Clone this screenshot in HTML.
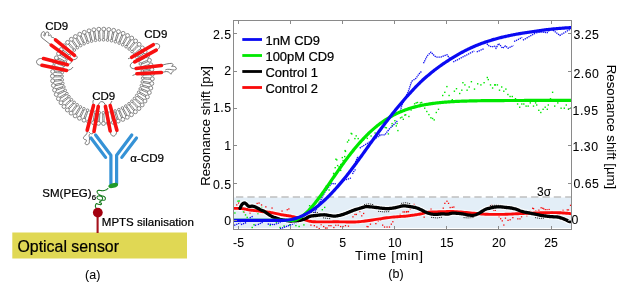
<!DOCTYPE html>
<html><head><meta charset="utf-8"><style>
html,body{margin:0;padding:0;background:#fff;}
svg{display:block;}
text{stroke:#000;stroke-width:0.06px;fill:#000;}
text.h{stroke-width:0.22px;}
svg{will-change:transform;}
</style></head><body>
<svg width="617" height="283" viewBox="0 0 617 283" font-family="Liberation Sans, sans-serif"><rect width="617" height="283" fill="#fff"/><line x1="177.5" y1="0" x2="177.5" y2="19" stroke="#ececec" stroke-width="1"/><rect x="234" y="197.5" width="337" height="30.4" fill="#e3eef7"/><line x1="236" y1="197" x2="571" y2="197" stroke="#a0a0a0" stroke-width="1.2" stroke-dasharray="7.3,4.05"/><g fill="#fa0a0a"><rect x="236.1" y="204.3" width="1.3" height="1.3"/><rect x="238.0" y="202.4" width="1.3" height="1.3"/><rect x="256.5" y="202.8" width="1.3" height="1.3"/><rect x="258.4" y="202.4" width="1.3" height="1.3"/><rect x="260.9" y="204.3" width="1.3" height="1.3"/><rect x="265.2" y="206.2" width="1.3" height="1.3"/><rect x="263.4" y="209.3" width="1.3" height="1.3"/><rect x="286.6" y="209.1" width="1.3" height="1.3"/><rect x="288.2" y="208.3" width="1.3" height="1.3"/><rect x="243.4" y="211.4" width="1.3" height="1.3"/><rect x="249.4" y="212.4" width="1.3" height="1.3"/><rect x="271.4" y="207.4" width="1.3" height="1.3"/><rect x="276.4" y="213.4" width="1.3" height="1.3"/><rect x="281.4" y="210.4" width="1.3" height="1.3"/><rect x="310.3" y="224.5" width="1.3" height="1.3"/><rect x="313.7" y="225.0" width="1.3" height="1.3"/><rect x="316.2" y="226.4" width="1.3" height="1.3"/><rect x="318.6" y="227.9" width="1.3" height="1.3"/><rect x="320.5" y="224.0" width="1.3" height="1.3"/><rect x="323.0" y="225.9" width="1.3" height="1.3"/><rect x="324.9" y="227.4" width="1.3" height="1.3"/><rect x="326.4" y="227.4" width="1.3" height="1.3"/><rect x="328.3" y="225.0" width="1.3" height="1.3"/><rect x="330.3" y="225.0" width="1.3" height="1.3"/><rect x="333.2" y="226.9" width="1.3" height="1.3"/><rect x="335.1" y="224.5" width="1.3" height="1.3"/><rect x="337.6" y="224.5" width="1.3" height="1.3"/><rect x="340.0" y="225.9" width="1.3" height="1.3"/><rect x="342.4" y="225.9" width="1.3" height="1.3"/><rect x="344.8" y="225.0" width="1.3" height="1.3"/><rect x="347.8" y="225.5" width="1.3" height="1.3"/><rect x="352.3" y="216.2" width="1.3" height="1.3"/><rect x="354.3" y="213.8" width="1.3" height="1.3"/><rect x="355.7" y="213.8" width="1.3" height="1.3"/><rect x="359.1" y="210.9" width="1.3" height="1.3"/><rect x="361.1" y="215.2" width="1.3" height="1.3"/><rect x="363.0" y="212.8" width="1.3" height="1.3"/><rect x="364.5" y="219.6" width="1.3" height="1.3"/><rect x="366.4" y="225.9" width="1.3" height="1.3"/><rect x="367.4" y="226.1" width="1.3" height="1.3"/><rect x="369.8" y="223.5" width="1.3" height="1.3"/><rect x="375.2" y="223.0" width="1.3" height="1.3"/><rect x="377.6" y="220.6" width="1.3" height="1.3"/><rect x="380.0" y="219.6" width="1.3" height="1.3"/><rect x="382.0" y="224.5" width="1.3" height="1.3"/><rect x="383.9" y="226.4" width="1.3" height="1.3"/><rect x="386.4" y="226.4" width="1.3" height="1.3"/><rect x="388.8" y="226.4" width="1.3" height="1.3"/><rect x="390.7" y="223.5" width="1.3" height="1.3"/><rect x="392.2" y="221.1" width="1.3" height="1.3"/><rect x="399.5" y="213.8" width="1.3" height="1.3"/><rect x="402.4" y="211.3" width="1.3" height="1.3"/><rect x="403.9" y="211.3" width="1.3" height="1.3"/><rect x="405.8" y="211.3" width="1.3" height="1.3"/><rect x="407.8" y="210.9" width="1.3" height="1.3"/><rect x="413.4" y="203.8" width="1.3" height="1.3"/><rect x="409.7" y="208.5" width="1.3" height="1.3"/><rect x="406.0" y="211.0" width="1.3" height="1.3"/><rect x="407.6" y="211.0" width="1.3" height="1.3"/><rect x="430.4" y="208.5" width="1.3" height="1.3"/><rect x="423.5" y="216.5" width="1.3" height="1.3"/><rect x="442.6" y="207.5" width="1.3" height="1.3"/><rect x="444.2" y="202.7" width="1.3" height="1.3"/><rect x="446.3" y="200.6" width="1.3" height="1.3"/><rect x="447.9" y="202.7" width="1.3" height="1.3"/><rect x="449.5" y="206.9" width="1.3" height="1.3"/><rect x="451.6" y="206.7" width="1.3" height="1.3"/><rect x="453.2" y="206.4" width="1.3" height="1.3"/><rect x="489.4" y="205.4" width="1.3" height="1.3"/><rect x="491.0" y="204.8" width="1.3" height="1.3"/><rect x="486.2" y="207.5" width="1.3" height="1.3"/><rect x="493.1" y="209.6" width="1.3" height="1.3"/><rect x="494.7" y="209.6" width="1.3" height="1.3"/><rect x="498.4" y="216.0" width="1.3" height="1.3"/><rect x="500.0" y="218.1" width="1.3" height="1.3"/><rect x="501.6" y="220.2" width="1.3" height="1.3"/><rect x="503.2" y="224.4" width="1.3" height="1.3"/><rect x="504.8" y="217.5" width="1.3" height="1.3"/><rect x="507.4" y="219.7" width="1.3" height="1.3"/><rect x="509.5" y="219.1" width="1.3" height="1.3"/><rect x="512.2" y="217.0" width="1.3" height="1.3"/><rect x="517.2" y="218.2" width="1.3" height="1.3"/><rect x="519.3" y="218.2" width="1.3" height="1.3"/><rect x="520.9" y="216.1" width="1.3" height="1.3"/><rect x="526.2" y="215.1" width="1.3" height="1.3"/><rect x="529.4" y="210.3" width="1.3" height="1.3"/><rect x="532.0" y="207.6" width="1.3" height="1.3"/><rect x="532.9" y="208.0" width="1.3" height="1.3"/><rect x="535.2" y="210.1" width="1.3" height="1.3"/><rect x="537.8" y="209.8" width="1.3" height="1.3"/><rect x="538.4" y="209.7" width="1.3" height="1.3"/><rect x="540.5" y="207.1" width="1.3" height="1.3"/><rect x="542.1" y="207.6" width="1.3" height="1.3"/><rect x="543.1" y="208.2" width="1.3" height="1.3"/><rect x="544.7" y="209.1" width="1.3" height="1.3"/><rect x="546.4" y="209.1" width="1.3" height="1.3"/><rect x="548.5" y="208.9" width="1.3" height="1.3"/><rect x="551.4" y="211.0" width="1.3" height="1.3"/><rect x="559.0" y="214.4" width="1.3" height="1.3"/><rect x="562.4" y="209.7" width="1.3" height="1.3"/><rect x="566.6" y="209.3" width="1.3" height="1.3"/><rect x="567.8" y="209.3" width="1.3" height="1.3"/><rect x="569.9" y="204.7" width="1.3" height="1.3"/></g><g fill="#00e800"><rect x="237.3" y="200.5" width="1.4" height="1.4"/><rect x="238.5" y="200.3" width="1.4" height="1.4"/><rect x="234.2" y="212.3" width="1.4" height="1.4"/><rect x="242.8" y="211.0" width="1.4" height="1.4"/><rect x="244.8" y="214.2" width="1.4" height="1.4"/><rect x="246.5" y="216.7" width="1.4" height="1.4"/><rect x="253.3" y="224.0" width="1.4" height="1.4"/><rect x="251.5" y="226.8" width="1.4" height="1.4"/><rect x="257.2" y="212.9" width="1.4" height="1.4"/><rect x="260.9" y="206.8" width="1.4" height="1.4"/><rect x="269.5" y="224.7" width="1.4" height="1.4"/><rect x="275.7" y="221.5" width="1.4" height="1.4"/><rect x="279.4" y="226.8" width="1.4" height="1.4"/><rect x="289.0" y="224.2" width="1.4" height="1.4"/><rect x="295.2" y="224.9" width="1.4" height="1.4"/><rect x="303.2" y="224.2" width="1.4" height="1.4"/><rect x="283.4" y="225.3" width="1.4" height="1.4"/><rect x="298.4" y="225.8" width="1.4" height="1.4"/><rect x="308.9" y="205.0" width="1.4" height="1.4"/><rect x="316.0" y="199.4" width="1.4" height="1.4"/><rect x="321.6" y="209.0" width="1.4" height="1.4"/><rect x="324.0" y="206.7" width="1.4" height="1.4"/><rect x="325.7" y="185.5" width="1.4" height="1.4"/><rect x="332.1" y="177.7" width="1.4" height="1.4"/><rect x="318.4" y="202.3" width="1.4" height="1.4"/><rect x="328.4" y="189.3" width="1.4" height="1.4"/><rect x="312.4" y="206.3" width="1.4" height="1.4"/><rect x="335.2" y="158.5" width="1.4" height="1.4"/><rect x="336.9" y="164.9" width="1.4" height="1.4"/><rect x="336.1" y="159.2" width="1.4" height="1.4"/><rect x="338.4" y="166.2" width="1.4" height="1.4"/><rect x="340.0" y="163.8" width="1.4" height="1.4"/><rect x="342.4" y="159.9" width="1.4" height="1.4"/><rect x="344.0" y="155.9" width="1.4" height="1.4"/><rect x="334.5" y="167.0" width="1.4" height="1.4"/><rect x="332.9" y="172.7" width="1.4" height="1.4"/><rect x="340.0" y="169.7" width="1.4" height="1.4"/><rect x="341.6" y="156.9" width="1.4" height="1.4"/><rect x="344.8" y="150.7" width="1.4" height="1.4"/><rect x="344.4" y="149.9" width="1.4" height="1.4"/><rect x="346.8" y="141.3" width="1.4" height="1.4"/><rect x="348.0" y="139.5" width="1.4" height="1.4"/><rect x="351.1" y="133.2" width="1.4" height="1.4"/><rect x="350.5" y="132.7" width="1.4" height="1.4"/><rect x="354.2" y="137.9" width="1.4" height="1.4"/><rect x="355.5" y="135.2" width="1.4" height="1.4"/><rect x="357.5" y="137.9" width="1.4" height="1.4"/><rect x="329.9" y="181.3" width="1.4" height="1.4"/><rect x="333.4" y="173.3" width="1.4" height="1.4"/><rect x="362.9" y="138.8" width="1.4" height="1.4"/><rect x="366.6" y="137.7" width="1.4" height="1.4"/><rect x="370.4" y="135.3" width="1.4" height="1.4"/><rect x="374.4" y="132.3" width="1.4" height="1.4"/><rect x="379.4" y="130.3" width="1.4" height="1.4"/><rect x="384.5" y="126.8" width="1.4" height="1.4"/><rect x="385.7" y="127.1" width="1.4" height="1.4"/><rect x="387.7" y="133.2" width="1.4" height="1.4"/><rect x="391.4" y="122.9" width="1.4" height="1.4"/><rect x="391.4" y="125.2" width="1.4" height="1.4"/><rect x="394.2" y="120.0" width="1.4" height="1.4"/><rect x="395.6" y="125.2" width="1.4" height="1.4"/><rect x="396.4" y="122.8" width="1.4" height="1.4"/><rect x="397.2" y="129.9" width="1.4" height="1.4"/><rect x="399.8" y="117.2" width="1.4" height="1.4"/><rect x="401.2" y="116.5" width="1.4" height="1.4"/><rect x="402.6" y="118.6" width="1.4" height="1.4"/><rect x="404.1" y="114.4" width="1.4" height="1.4"/><rect x="405.0" y="114.1" width="1.4" height="1.4"/><rect x="408.2" y="115.8" width="1.4" height="1.4"/><rect x="410.4" y="109.3" width="1.4" height="1.4"/><rect x="413.9" y="103.1" width="1.4" height="1.4"/><rect x="415.5" y="102.2" width="1.4" height="1.4"/><rect x="416.8" y="101.8" width="1.4" height="1.4"/><rect x="419.7" y="102.2" width="1.4" height="1.4"/><rect x="421.0" y="101.8" width="1.4" height="1.4"/><rect x="424.0" y="107.5" width="1.4" height="1.4"/><rect x="426.1" y="110.8" width="1.4" height="1.4"/><rect x="428.2" y="113.9" width="1.4" height="1.4"/><rect x="430.2" y="117.1" width="1.4" height="1.4"/><rect x="431.9" y="117.8" width="1.4" height="1.4"/><rect x="433.5" y="119.2" width="1.4" height="1.4"/><rect x="435.6" y="111.8" width="1.4" height="1.4"/><rect x="437.8" y="108.6" width="1.4" height="1.4"/><rect x="442.0" y="94.8" width="1.4" height="1.4"/><rect x="444.1" y="91.6" width="1.4" height="1.4"/><rect x="446.2" y="85.9" width="1.4" height="1.4"/><rect x="448.4" y="94.8" width="1.4" height="1.4"/><rect x="451.6" y="99.0" width="1.4" height="1.4"/><rect x="453.7" y="90.5" width="1.4" height="1.4"/><rect x="455.8" y="88.0" width="1.4" height="1.4"/><rect x="459.0" y="92.8" width="1.4" height="1.4"/><rect x="461.1" y="89.5" width="1.4" height="1.4"/><rect x="462.2" y="82.0" width="1.4" height="1.4"/><rect x="464.2" y="84.2" width="1.4" height="1.4"/><rect x="466.4" y="89.5" width="1.4" height="1.4"/><rect x="468.5" y="86.3" width="1.4" height="1.4"/><rect x="470.7" y="81.0" width="1.4" height="1.4"/><rect x="473.8" y="88.4" width="1.4" height="1.4"/><rect x="477.0" y="83.1" width="1.4" height="1.4"/><rect x="480.2" y="84.2" width="1.4" height="1.4"/><rect x="483.4" y="82.0" width="1.4" height="1.4"/><rect x="486.6" y="76.8" width="1.4" height="1.4"/><rect x="487.6" y="78.9" width="1.4" height="1.4"/><rect x="489.8" y="84.2" width="1.4" height="1.4"/><rect x="491.9" y="87.3" width="1.4" height="1.4"/><rect x="494.0" y="84.2" width="1.4" height="1.4"/><rect x="494.6" y="84.2" width="1.4" height="1.4"/><rect x="496.7" y="84.2" width="1.4" height="1.4"/><rect x="498.8" y="89.5" width="1.4" height="1.4"/><rect x="501.0" y="86.3" width="1.4" height="1.4"/><rect x="503.1" y="90.5" width="1.4" height="1.4"/><rect x="505.2" y="88.4" width="1.4" height="1.4"/><rect x="507.2" y="93.8" width="1.4" height="1.4"/><rect x="509.4" y="95.8" width="1.4" height="1.4"/><rect x="511.6" y="95.8" width="1.4" height="1.4"/><rect x="514.8" y="98.0" width="1.4" height="1.4"/><rect x="516.9" y="103.3" width="1.4" height="1.4"/><rect x="519.0" y="106.5" width="1.4" height="1.4"/><rect x="521.1" y="103.3" width="1.4" height="1.4"/><rect x="523.1" y="103.3" width="1.4" height="1.4"/><rect x="525.4" y="105.4" width="1.4" height="1.4"/><rect x="527.5" y="105.4" width="1.4" height="1.4"/><rect x="529.6" y="102.2" width="1.4" height="1.4"/><rect x="532.8" y="105.4" width="1.4" height="1.4"/><rect x="534.9" y="102.2" width="1.4" height="1.4"/><rect x="536.0" y="104.3" width="1.4" height="1.4"/><rect x="538.1" y="109.6" width="1.4" height="1.4"/><rect x="540.1" y="111.8" width="1.4" height="1.4"/><rect x="542.4" y="108.6" width="1.4" height="1.4"/><rect x="544.5" y="106.5" width="1.4" height="1.4"/><rect x="546.6" y="108.6" width="1.4" height="1.4"/><rect x="547.6" y="104.3" width="1.4" height="1.4"/><rect x="549.8" y="98.0" width="1.4" height="1.4"/><rect x="551.9" y="91.6" width="1.4" height="1.4"/><rect x="554.0" y="105.4" width="1.4" height="1.4"/><rect x="557.1" y="102.2" width="1.4" height="1.4"/><rect x="560.4" y="107.5" width="1.4" height="1.4"/><rect x="563.6" y="107.5" width="1.4" height="1.4"/><rect x="565.6" y="104.3" width="1.4" height="1.4"/><rect x="567.8" y="108.6" width="1.4" height="1.4"/><rect x="570.0" y="107.5" width="1.4" height="1.4"/></g><g fill="none" stroke="#0a0af2" stroke-width="1.3" stroke-dasharray="1.3,0.8"><path d="M234.20,225.30 L240.40,222.80"/><path d="M241.00,224.70 L246.60,222.50"/><path d="M249.70,217.90 L252.80,216.30"/><path d="M254.70,225.30 L257.00,225.00"/><path d="M257.80,224.70 L263.30,222.00"/><path d="M267.70,224.00 L273.80,224.70"/><path d="M273.80,224.70 L282.50,221.60"/><path d="M280.00,228.80 L296.00,222.80 L311.80,216.80"/><path d="M311.80,216.80 L315.50,211.00 L319.00,204.50 L322.00,197.50 L324.80,192.30 L327.10,189.10 L329.50,186.00 L331.90,183.30 L334.30,183.90 L336.00,183.60"/><path d="M343.80,180.40 L346.20,179.60 L348.60,178.80 L351.00,178.00"/><path d="M352.50,174.00 L354.10,170.90 L355.70,169.30"/><path d="M355.50,162.00 L358.10,156.00"/><path d="M359.70,148.10 L370.00,141.70 L380.30,135.40"/><path d="M379.20,134.90 L384.90,134.90 L389.10,129.20 L393.40,125.00 L397.60,120.70"/><path d="M400.40,110.80 L401.80,105.20 L406.10,96.70 L408.90,89.70 L411.70,81.20"/><path d="M411.70,81.20 L416.00,78.40 L418.80,74.10 L421.60,71.30"/><path d="M423.50,63.30 L427.20,55.90 L430.90,52.20 L435.90,57.10 L440.80,57.10 L447.00,54.70 L449.50,58.40"/><path d="M453.20,62.00 L474.30,51.00"/><path d="M476.70,52.00 L484.20,48.50"/><path d="M485.40,42.30 L489.10,46.00 L492.00,46.80 L494.70,46.20 L496.00,48.20 L498.70,43.50 L501.40,46.80 L502.70,48.20 L505.40,45.90 L508.10,48.20 L513.50,45.50"/><path d="M514.10,41.50 L522.20,37.40"/><path d="M522.90,40.10 L536.30,32.70"/><path d="M536.30,32.70 L541.70,32.10 L547.00,32.70 L551.00,28.70 L553.70,30.70 L556.40,32.70 L559.80,35.40 L569.90,29.40"/></g><path d="M234.00,208.40 L234.42,208.40 L235.00,208.39 L235.69,208.38 L236.44,208.38 L237.23,208.38 L238.00,208.40 L238.78,208.42 L239.59,208.45 L240.44,208.49 L241.30,208.54 L242.16,208.61 L243.00,208.70 L243.83,208.83 L244.67,208.99 L245.50,209.17 L246.33,209.36 L247.17,209.54 L248.00,209.70 L248.83,209.84 L249.67,209.96 L250.50,210.08 L251.33,210.19 L252.17,210.30 L253.00,210.40 L253.83,210.49 L254.67,210.57 L255.50,210.64 L256.33,210.72 L257.17,210.80 L258.00,210.90 L258.83,211.02 L259.67,211.16 L260.50,211.31 L261.33,211.45 L262.17,211.59 L263.00,211.70 L263.83,211.79 L264.67,211.85 L265.50,211.90 L266.33,211.95 L267.17,212.01 L268.00,212.10 L268.81,212.20 L269.59,212.31 L270.38,212.43 L271.19,212.57 L272.05,212.72 L273.00,212.90 L274.07,213.12 L275.26,213.37 L276.50,213.64 L277.74,213.92 L278.93,214.18 L280.00,214.40 L280.95,214.59 L281.81,214.75 L282.62,214.90 L283.41,215.04 L284.19,215.17 L285.00,215.30 L285.83,215.42 L286.67,215.53 L287.50,215.63 L288.33,215.74 L289.17,215.86 L290.00,216.00 L290.83,216.17 L291.67,216.36 L292.50,216.56 L293.33,216.77 L294.17,216.99 L295.00,217.20 L295.83,217.41 L296.67,217.62 L297.50,217.84 L298.33,218.06 L299.17,218.28 L300.00,218.50 L300.83,218.73 L301.67,218.96 L302.50,219.19 L303.33,219.43 L304.17,219.67 L305.00,219.90 L305.83,220.14 L306.67,220.40 L307.50,220.66 L308.33,220.90 L309.17,221.12 L310.00,221.30 L310.78,221.44 L311.48,221.55 L312.19,221.63 L312.96,221.70 L313.88,221.75 L315.00,221.80 L316.38,221.84 L317.96,221.87 L319.69,221.89 L321.48,221.90 L323.28,221.90 L325.00,221.90 L326.67,221.89 L328.33,221.87 L330.00,221.85 L331.67,221.83 L333.33,221.81 L335.00,221.80 L336.67,221.81 L338.33,221.82 L340.00,221.84 L341.67,221.86 L343.33,221.88 L345.00,221.90 L346.66,221.93 L348.31,221.97 L349.96,222.02 L351.62,222.05 L353.30,222.05 L355.00,222.00 L356.73,221.90 L358.49,221.77 L360.26,221.61 L362.04,221.42 L363.83,221.21 L365.60,221.00 L367.37,220.77 L369.13,220.51 L370.90,220.24 L372.67,219.96 L374.43,219.67 L376.20,219.40 L377.97,219.13 L379.73,218.85 L381.50,218.57 L383.27,218.30 L385.03,218.04 L386.80,217.80 L388.60,217.58 L390.44,217.37 L392.29,217.18 L394.09,217.00 L395.81,216.84 L397.40,216.70 L398.86,216.58 L400.23,216.50 L401.51,216.42 L402.73,216.36 L403.88,216.29 L405.00,216.20 L406.06,216.09 L407.06,215.98 L408.00,215.86 L408.90,215.73 L409.76,215.61 L410.60,215.50 L411.38,215.40 L412.09,215.31 L412.76,215.23 L413.44,215.13 L414.18,215.03 L415.00,214.90 L415.94,214.75 L416.97,214.58 L418.04,214.39 L419.13,214.20 L420.20,214.00 L421.20,213.80 L422.14,213.59 L423.03,213.35 L423.91,213.11 L424.77,212.88 L425.63,212.67 L426.50,212.50 L427.32,212.37 L428.07,212.27 L428.82,212.19 L429.64,212.12 L430.61,212.06 L431.80,212.00 L433.28,211.94 L435.00,211.88 L436.87,211.83 L438.79,211.79 L440.66,211.74 L442.40,211.70 L443.97,211.65 L445.43,211.59 L446.86,211.54 L448.29,211.50 L449.79,211.48 L451.40,211.50 L453.15,211.56 L455.00,211.65 L456.91,211.77 L458.85,211.90 L460.79,212.05 L462.70,212.20 L464.58,212.36 L466.46,212.54 L468.34,212.74 L470.23,212.93 L472.11,213.12 L474.00,213.30 L475.89,213.47 L477.79,213.64 L479.69,213.81 L481.60,213.96 L483.50,214.09 L485.40,214.20 L487.33,214.28 L489.30,214.33 L491.26,214.36 L493.19,214.38 L495.05,214.39 L496.80,214.40 L498.40,214.41 L499.86,214.40 L501.25,214.39 L502.63,214.37 L504.06,214.34 L505.60,214.30 L507.26,214.24 L509.00,214.16 L510.79,214.08 L512.60,213.98 L514.41,213.89 L516.20,213.80 L517.97,213.72 L519.73,213.63 L521.50,213.54 L523.27,213.46 L525.03,213.38 L526.80,213.30 L528.60,213.23 L530.43,213.15 L532.27,213.08 L534.07,213.01 L535.79,212.95 L537.40,212.90 L538.82,212.85 L540.06,212.81 L541.22,212.78 L542.42,212.74 L543.74,212.72 L545.30,212.70 L547.19,212.68 L549.36,212.67 L551.65,212.66 L553.93,212.66 L556.06,212.67 L557.90,212.70 L559.41,212.74 L560.71,212.80 L561.86,212.86 L562.92,212.94 L563.94,213.02 L565.00,213.10 L566.13,213.20 L567.30,213.31 L568.44,213.43 L569.49,213.54 L570.36,213.63 L571.00,213.70" fill="none" stroke="#fff" stroke-opacity="0.55" stroke-width="5.2" stroke-linejoin="round" stroke-linecap="round"/><path d="M240.00,208.40 L240.16,208.04 L240.38,207.52 L240.64,206.91 L240.93,206.28 L241.22,205.69 L241.50,205.20 L241.77,204.80 L242.05,204.44 L242.33,204.12 L242.62,203.84 L242.91,203.60 L243.20,203.40 L243.49,203.24 L243.79,203.12 L244.09,203.04 L244.40,203.01 L244.70,203.03 L245.00,203.10 L245.30,203.24 L245.60,203.46 L245.90,203.72 L246.20,204.02 L246.50,204.32 L246.80,204.60 L247.10,204.89 L247.39,205.21 L247.69,205.54 L247.99,205.85 L248.29,206.11 L248.60,206.30 L248.92,206.40 L249.25,206.43 L249.59,206.41 L249.93,206.37 L250.26,206.33 L250.60,206.30 L250.93,206.28 L251.25,206.24 L251.58,206.21 L251.90,206.18 L252.24,206.17 L252.60,206.20 L252.97,206.26 L253.36,206.35 L253.75,206.46 L254.16,206.59 L254.57,206.74 L255.00,206.90 L255.44,207.08 L255.89,207.27 L256.35,207.48 L256.82,207.71 L257.31,207.95 L257.80,208.20 L258.31,208.48 L258.84,208.79 L259.39,209.11 L259.93,209.43 L260.47,209.73 L261.00,210.00 L261.51,210.22 L262.01,210.41 L262.51,210.58 L263.01,210.76 L263.50,210.95 L264.00,211.20 L264.50,211.50 L265.00,211.84 L265.50,212.20 L266.00,212.57 L266.50,212.95 L267.00,213.30 L267.50,213.64 L268.00,213.99 L268.50,214.33 L269.00,214.67 L269.50,214.99 L270.00,215.30 L270.50,215.60 L270.99,215.88 L271.48,216.16 L271.98,216.42 L272.48,216.67 L273.00,216.90 L273.53,217.11 L274.06,217.30 L274.61,217.47 L275.16,217.64 L275.72,217.81 L276.30,218.00 L276.88,218.21 L277.46,218.43 L278.04,218.66 L278.66,218.88 L279.30,219.10 L280.00,219.30 L280.76,219.49 L281.57,219.67 L282.42,219.84 L283.29,220.00 L284.15,220.15 L285.00,220.30 L285.83,220.44 L286.67,220.59 L287.50,220.73 L288.33,220.84 L289.17,220.94 L290.00,221.00 L290.83,221.02 L291.67,221.01 L292.50,220.97 L293.33,220.92 L294.17,220.86 L295.00,220.80 L295.83,220.75 L296.67,220.69 L297.50,220.63 L298.33,220.55 L299.17,220.44 L300.00,220.30 L300.83,220.12 L301.67,219.91 L302.50,219.68 L303.33,219.41 L304.17,219.12 L305.00,218.80 L305.83,218.42 L306.67,217.97 L307.50,217.50 L308.33,217.04 L309.17,216.62 L310.00,216.30 L310.83,216.08 L311.67,215.93 L312.51,215.83 L313.34,215.76 L314.17,215.69 L315.00,215.60 L315.82,215.49 L316.64,215.38 L317.45,215.27 L318.26,215.17 L319.08,215.08 L319.90,215.00 L320.73,214.93 L321.56,214.87 L322.40,214.81 L323.24,214.78 L324.07,214.77 L324.90,214.80 L325.72,214.88 L326.54,215.00 L327.35,215.16 L328.16,215.32 L328.98,215.47 L329.80,215.60 L330.63,215.72 L331.46,215.84 L332.30,215.95 L333.14,216.04 L333.97,216.10 L334.80,216.10 L335.62,216.05 L336.44,215.96 L337.25,215.83 L338.06,215.67 L338.88,215.49 L339.70,215.30 L340.53,215.10 L341.36,214.87 L342.20,214.62 L343.04,214.36 L343.87,214.08 L344.70,213.80 L345.52,213.51 L346.34,213.20 L347.15,212.88 L347.96,212.56 L348.78,212.23 L349.60,211.90 L350.42,211.57 L351.23,211.23 L352.05,210.89 L352.88,210.55 L353.73,210.22 L354.60,209.90 L355.51,209.60 L356.46,209.30 L357.43,209.02 L358.40,208.74 L359.37,208.47 L360.30,208.20 L361.21,207.92 L362.10,207.62 L362.98,207.33 L363.85,207.07 L364.72,206.85 L365.60,206.70 L366.48,206.63 L367.37,206.63 L368.25,206.67 L369.13,206.74 L370.02,206.82 L370.90,206.90 L371.78,206.98 L372.67,207.07 L373.55,207.17 L374.43,207.28 L375.32,207.39 L376.20,207.50 L377.08,207.61 L377.97,207.74 L378.85,207.86 L379.73,207.99 L380.62,208.10 L381.50,208.20 L382.38,208.29 L383.27,208.39 L384.15,208.47 L385.03,208.54 L385.92,208.58 L386.80,208.60 L387.68,208.59 L388.57,208.55 L389.45,208.49 L390.33,208.41 L391.22,208.31 L392.10,208.20 L392.98,208.07 L393.87,207.92 L394.75,207.76 L395.63,207.58 L396.52,207.39 L397.40,207.20 L398.29,206.98 L399.20,206.73 L400.11,206.47 L401.01,206.23 L401.87,206.03 L402.70,205.90 L403.48,205.84 L404.23,205.84 L404.96,205.88 L405.66,205.95 L406.34,206.03 L407.00,206.10 L407.62,206.17 L408.19,206.26 L408.74,206.35 L409.30,206.46 L409.91,206.57 L410.60,206.70 L411.38,206.83 L412.24,206.96 L413.14,207.11 L414.07,207.27 L415.00,207.47 L415.90,207.70 L416.78,207.98 L417.67,208.30 L418.55,208.64 L419.43,209.01 L420.32,209.40 L421.20,209.80 L422.08,210.23 L422.97,210.70 L423.85,211.18 L424.73,211.66 L425.62,212.11 L426.50,212.50 L427.38,212.85 L428.27,213.17 L429.15,213.46 L430.03,213.71 L430.92,213.93 L431.80,214.10 L432.68,214.22 L433.57,214.29 L434.45,214.32 L435.33,214.33 L436.22,214.32 L437.10,214.30 L437.98,214.26 L438.87,214.19 L439.75,214.10 L440.63,214.01 L441.52,213.94 L442.40,213.90 L443.29,213.91 L444.20,213.96 L445.11,214.03 L446.01,214.09 L446.87,214.12 L447.70,214.10 L448.47,214.00 L449.18,213.84 L449.87,213.66 L450.55,213.47 L451.25,213.30 L452.00,213.20 L452.78,213.15 L453.59,213.14 L454.41,213.16 L455.26,213.19 L456.12,213.24 L457.00,213.30 L457.91,213.37 L458.86,213.44 L459.83,213.54 L460.80,213.64 L461.77,213.77 L462.70,213.90 L463.60,214.06 L464.47,214.26 L465.33,214.47 L466.20,214.68 L467.08,214.86 L468.00,215.00 L468.97,215.11 L469.99,215.21 L471.02,215.29 L472.05,215.33 L473.05,215.30 L474.00,215.20 L474.88,215.01 L475.69,214.76 L476.47,214.45 L477.27,214.08 L478.10,213.66 L479.00,213.20 L480.01,212.64 L481.10,211.97 L482.23,211.26 L483.35,210.55 L484.42,209.91 L485.40,209.40 L486.27,209.04 L487.05,208.77 L487.79,208.58 L488.50,208.42 L489.23,208.27 L490.00,208.10 L490.81,207.91 L491.63,207.71 L492.46,207.53 L493.30,207.36 L494.14,207.22 L495.00,207.10 L495.87,207.01 L496.74,206.95 L497.63,206.91 L498.52,206.89 L499.41,206.88 L500.30,206.90 L501.18,206.94 L502.07,207.01 L502.95,207.10 L503.83,207.20 L504.72,207.30 L505.60,207.40 L506.48,207.49 L507.37,207.57 L508.25,207.66 L509.13,207.75 L510.02,207.86 L510.90,208.00 L511.80,208.16 L512.72,208.34 L513.64,208.54 L514.54,208.75 L515.40,208.97 L516.20,209.20 L516.92,209.45 L517.56,209.72 L518.17,210.00 L518.76,210.28 L519.36,210.55 L520.00,210.80 L520.68,211.03 L521.37,211.24 L522.08,211.45 L522.79,211.64 L523.50,211.83 L524.20,212.00 L524.90,212.16 L525.60,212.29 L526.30,212.42 L527.00,212.54 L527.70,212.67 L528.40,212.80 L529.10,212.95 L529.80,213.10 L530.50,213.25 L531.20,213.40 L531.90,213.55 L532.60,213.70 L533.30,213.84 L534.00,213.97 L534.69,214.10 L535.39,214.23 L536.09,214.36 L536.80,214.50 L537.51,214.65 L538.23,214.80 L538.95,214.96 L539.67,215.12 L540.39,215.27 L541.10,215.40 L541.81,215.52 L542.51,215.63 L543.21,215.73 L543.90,215.82 L544.60,215.91 L545.30,216.00 L546.00,216.09 L546.70,216.18 L547.40,216.27 L548.10,216.35 L548.80,216.43 L549.50,216.50 L550.20,216.56 L550.90,216.61 L551.60,216.66 L552.30,216.71 L553.00,216.75 L553.70,216.80 L554.40,216.84 L555.10,216.87 L555.80,216.89 L556.50,216.93 L557.20,217.00 L557.90,217.10 L558.60,217.24 L559.30,217.41 L560.00,217.61 L560.70,217.83 L561.40,218.06 L562.10,218.30 L562.82,218.56 L563.57,218.84 L564.33,219.14 L565.05,219.44 L565.72,219.73 L566.30,220.00 L566.78,220.25 L567.19,220.50 L567.54,220.73 L567.86,220.95 L568.17,221.14 L568.50,221.30 L568.87,221.42 L569.26,221.51 L569.64,221.58 L569.99,221.63 L570.28,221.67 L570.50,221.70" fill="none" stroke="#fff" stroke-opacity="0.8" stroke-width="5.8" stroke-linejoin="round" stroke-linecap="round"/><g fill="none" stroke="#222" stroke-width="0.9" stroke-dasharray="1.2,0.8"><path d="M311.00,212.30 L318.00,212.60"/><path d="M323.00,217.80 L331.00,218.80"/><path d="M364.00,204.60 L369.00,203.80 L374.00,204.80"/><path d="M378.00,211.30 L384.00,211.90 L390.00,211.60"/><path d="M401.00,203.40 L406.00,202.70 L411.00,204.00"/><path d="M431.00,217.30 L437.00,218.00 L442.00,217.20"/><path d="M535.00,217.60 L540.00,218.40 L544.00,218.20"/><path d="M463.50,217.60 L468.00,217.90 L474.10,217.50"/><path d="M490.00,205.60 L495.00,205.20 L500.60,205.40"/></g><path d="M234.00,208.40 L234.42,208.40 L235.00,208.39 L235.69,208.38 L236.44,208.38 L237.23,208.38 L238.00,208.40 L238.78,208.42 L239.59,208.45 L240.44,208.49 L241.30,208.54 L242.16,208.61 L243.00,208.70 L243.83,208.83 L244.67,208.99 L245.50,209.17 L246.33,209.36 L247.17,209.54 L248.00,209.70 L248.83,209.84 L249.67,209.96 L250.50,210.08 L251.33,210.19 L252.17,210.30 L253.00,210.40 L253.83,210.49 L254.67,210.57 L255.50,210.64 L256.33,210.72 L257.17,210.80 L258.00,210.90 L258.83,211.02 L259.67,211.16 L260.50,211.31 L261.33,211.45 L262.17,211.59 L263.00,211.70 L263.83,211.79 L264.67,211.85 L265.50,211.90 L266.33,211.95 L267.17,212.01 L268.00,212.10 L268.81,212.20 L269.59,212.31 L270.38,212.43 L271.19,212.57 L272.05,212.72 L273.00,212.90 L274.07,213.12 L275.26,213.37 L276.50,213.64 L277.74,213.92 L278.93,214.18 L280.00,214.40 L280.95,214.59 L281.81,214.75 L282.62,214.90 L283.41,215.04 L284.19,215.17 L285.00,215.30 L285.83,215.42 L286.67,215.53 L287.50,215.63 L288.33,215.74 L289.17,215.86 L290.00,216.00 L290.83,216.17 L291.67,216.36 L292.50,216.56 L293.33,216.77 L294.17,216.99 L295.00,217.20 L295.83,217.41 L296.67,217.62 L297.50,217.84 L298.33,218.06 L299.17,218.28 L300.00,218.50 L300.83,218.73 L301.67,218.96 L302.50,219.19 L303.33,219.43 L304.17,219.67 L305.00,219.90 L305.83,220.14 L306.67,220.40 L307.50,220.66 L308.33,220.90 L309.17,221.12 L310.00,221.30 L310.78,221.44 L311.48,221.55 L312.19,221.63 L312.96,221.70 L313.88,221.75 L315.00,221.80 L316.38,221.84 L317.96,221.87 L319.69,221.89 L321.48,221.90 L323.28,221.90 L325.00,221.90 L326.67,221.89 L328.33,221.87 L330.00,221.85 L331.67,221.83 L333.33,221.81 L335.00,221.80 L336.67,221.81 L338.33,221.82 L340.00,221.84 L341.67,221.86 L343.33,221.88 L345.00,221.90 L346.66,221.93 L348.31,221.97 L349.96,222.02 L351.62,222.05 L353.30,222.05 L355.00,222.00 L356.73,221.90 L358.49,221.77 L360.26,221.61 L362.04,221.42 L363.83,221.21 L365.60,221.00 L367.37,220.77 L369.13,220.51 L370.90,220.24 L372.67,219.96 L374.43,219.67 L376.20,219.40 L377.97,219.13 L379.73,218.85 L381.50,218.57 L383.27,218.30 L385.03,218.04 L386.80,217.80 L388.60,217.58 L390.44,217.37 L392.29,217.18 L394.09,217.00 L395.81,216.84 L397.40,216.70 L398.86,216.58 L400.23,216.50 L401.51,216.42 L402.73,216.36 L403.88,216.29 L405.00,216.20 L406.06,216.09 L407.06,215.98 L408.00,215.86 L408.90,215.73 L409.76,215.61 L410.60,215.50 L411.38,215.40 L412.09,215.31 L412.76,215.23 L413.44,215.13 L414.18,215.03 L415.00,214.90 L415.94,214.75 L416.97,214.58 L418.04,214.39 L419.13,214.20 L420.20,214.00 L421.20,213.80 L422.14,213.59 L423.03,213.35 L423.91,213.11 L424.77,212.88 L425.63,212.67 L426.50,212.50 L427.32,212.37 L428.07,212.27 L428.82,212.19 L429.64,212.12 L430.61,212.06 L431.80,212.00 L433.28,211.94 L435.00,211.88 L436.87,211.83 L438.79,211.79 L440.66,211.74 L442.40,211.70 L443.97,211.65 L445.43,211.59 L446.86,211.54 L448.29,211.50 L449.79,211.48 L451.40,211.50 L453.15,211.56 L455.00,211.65 L456.91,211.77 L458.85,211.90 L460.79,212.05 L462.70,212.20 L464.58,212.36 L466.46,212.54 L468.34,212.74 L470.23,212.93 L472.11,213.12 L474.00,213.30 L475.89,213.47 L477.79,213.64 L479.69,213.81 L481.60,213.96 L483.50,214.09 L485.40,214.20 L487.33,214.28 L489.30,214.33 L491.26,214.36 L493.19,214.38 L495.05,214.39 L496.80,214.40 L498.40,214.41 L499.86,214.40 L501.25,214.39 L502.63,214.37 L504.06,214.34 L505.60,214.30 L507.26,214.24 L509.00,214.16 L510.79,214.08 L512.60,213.98 L514.41,213.89 L516.20,213.80 L517.97,213.72 L519.73,213.63 L521.50,213.54 L523.27,213.46 L525.03,213.38 L526.80,213.30 L528.60,213.23 L530.43,213.15 L532.27,213.08 L534.07,213.01 L535.79,212.95 L537.40,212.90 L538.82,212.85 L540.06,212.81 L541.22,212.78 L542.42,212.74 L543.74,212.72 L545.30,212.70 L547.19,212.68 L549.36,212.67 L551.65,212.66 L553.93,212.66 L556.06,212.67 L557.90,212.70 L559.41,212.74 L560.71,212.80 L561.86,212.86 L562.92,212.94 L563.94,213.02 L565.00,213.10 L566.13,213.20 L567.30,213.31 L568.44,213.43 L569.49,213.54 L570.36,213.63 L571.00,213.70" fill="none" stroke="#fa0a0a" stroke-width="2.9" stroke-linejoin="round" stroke-linecap="round"/><path d="M240.00,208.40 L240.16,208.04 L240.38,207.52 L240.64,206.91 L240.93,206.28 L241.22,205.69 L241.50,205.20 L241.77,204.80 L242.05,204.44 L242.33,204.12 L242.62,203.84 L242.91,203.60 L243.20,203.40 L243.49,203.24 L243.79,203.12 L244.09,203.04 L244.40,203.01 L244.70,203.03 L245.00,203.10 L245.30,203.24 L245.60,203.46 L245.90,203.72 L246.20,204.02 L246.50,204.32 L246.80,204.60 L247.10,204.89 L247.39,205.21 L247.69,205.54 L247.99,205.85 L248.29,206.11 L248.60,206.30 L248.92,206.40 L249.25,206.43 L249.59,206.41 L249.93,206.37 L250.26,206.33 L250.60,206.30 L250.93,206.28 L251.25,206.24 L251.58,206.21 L251.90,206.18 L252.24,206.17 L252.60,206.20 L252.97,206.26 L253.36,206.35 L253.75,206.46 L254.16,206.59 L254.57,206.74 L255.00,206.90 L255.44,207.08 L255.89,207.27 L256.35,207.48 L256.82,207.71 L257.31,207.95 L257.80,208.20 L258.31,208.48 L258.84,208.79 L259.39,209.11 L259.93,209.43 L260.47,209.73 L261.00,210.00 L261.51,210.22 L262.01,210.41 L262.51,210.58 L263.01,210.76 L263.50,210.95 L264.00,211.20 L264.50,211.50 L265.00,211.84 L265.50,212.20 L266.00,212.57 L266.50,212.95 L267.00,213.30 L267.50,213.64 L268.00,213.99 L268.50,214.33 L269.00,214.67 L269.50,214.99 L270.00,215.30 L270.50,215.60 L270.99,215.88 L271.48,216.16 L271.98,216.42 L272.48,216.67 L273.00,216.90 L273.53,217.11 L274.06,217.30 L274.61,217.47 L275.16,217.64 L275.72,217.81 L276.30,218.00 L276.88,218.21 L277.46,218.43 L278.04,218.66 L278.66,218.88 L279.30,219.10 L280.00,219.30 L280.76,219.49 L281.57,219.67 L282.42,219.84 L283.29,220.00 L284.15,220.15 L285.00,220.30 L285.83,220.44 L286.67,220.59 L287.50,220.73 L288.33,220.84 L289.17,220.94 L290.00,221.00 L290.83,221.02 L291.67,221.01 L292.50,220.97 L293.33,220.92 L294.17,220.86 L295.00,220.80 L295.83,220.75 L296.67,220.69 L297.50,220.63 L298.33,220.55 L299.17,220.44 L300.00,220.30 L300.83,220.12 L301.67,219.91 L302.50,219.68 L303.33,219.41 L304.17,219.12 L305.00,218.80 L305.83,218.42 L306.67,217.97 L307.50,217.50 L308.33,217.04 L309.17,216.62 L310.00,216.30 L310.83,216.08 L311.67,215.93 L312.51,215.83 L313.34,215.76 L314.17,215.69 L315.00,215.60 L315.82,215.49 L316.64,215.38 L317.45,215.27 L318.26,215.17 L319.08,215.08 L319.90,215.00 L320.73,214.93 L321.56,214.87 L322.40,214.81 L323.24,214.78 L324.07,214.77 L324.90,214.80 L325.72,214.88 L326.54,215.00 L327.35,215.16 L328.16,215.32 L328.98,215.47 L329.80,215.60 L330.63,215.72 L331.46,215.84 L332.30,215.95 L333.14,216.04 L333.97,216.10 L334.80,216.10 L335.62,216.05 L336.44,215.96 L337.25,215.83 L338.06,215.67 L338.88,215.49 L339.70,215.30 L340.53,215.10 L341.36,214.87 L342.20,214.62 L343.04,214.36 L343.87,214.08 L344.70,213.80 L345.52,213.51 L346.34,213.20 L347.15,212.88 L347.96,212.56 L348.78,212.23 L349.60,211.90 L350.42,211.57 L351.23,211.23 L352.05,210.89 L352.88,210.55 L353.73,210.22 L354.60,209.90 L355.51,209.60 L356.46,209.30 L357.43,209.02 L358.40,208.74 L359.37,208.47 L360.30,208.20 L361.21,207.92 L362.10,207.62 L362.98,207.33 L363.85,207.07 L364.72,206.85 L365.60,206.70 L366.48,206.63 L367.37,206.63 L368.25,206.67 L369.13,206.74 L370.02,206.82 L370.90,206.90 L371.78,206.98 L372.67,207.07 L373.55,207.17 L374.43,207.28 L375.32,207.39 L376.20,207.50 L377.08,207.61 L377.97,207.74 L378.85,207.86 L379.73,207.99 L380.62,208.10 L381.50,208.20 L382.38,208.29 L383.27,208.39 L384.15,208.47 L385.03,208.54 L385.92,208.58 L386.80,208.60 L387.68,208.59 L388.57,208.55 L389.45,208.49 L390.33,208.41 L391.22,208.31 L392.10,208.20 L392.98,208.07 L393.87,207.92 L394.75,207.76 L395.63,207.58 L396.52,207.39 L397.40,207.20 L398.29,206.98 L399.20,206.73 L400.11,206.47 L401.01,206.23 L401.87,206.03 L402.70,205.90 L403.48,205.84 L404.23,205.84 L404.96,205.88 L405.66,205.95 L406.34,206.03 L407.00,206.10 L407.62,206.17 L408.19,206.26 L408.74,206.35 L409.30,206.46 L409.91,206.57 L410.60,206.70 L411.38,206.83 L412.24,206.96 L413.14,207.11 L414.07,207.27 L415.00,207.47 L415.90,207.70 L416.78,207.98 L417.67,208.30 L418.55,208.64 L419.43,209.01 L420.32,209.40 L421.20,209.80 L422.08,210.23 L422.97,210.70 L423.85,211.18 L424.73,211.66 L425.62,212.11 L426.50,212.50 L427.38,212.85 L428.27,213.17 L429.15,213.46 L430.03,213.71 L430.92,213.93 L431.80,214.10 L432.68,214.22 L433.57,214.29 L434.45,214.32 L435.33,214.33 L436.22,214.32 L437.10,214.30 L437.98,214.26 L438.87,214.19 L439.75,214.10 L440.63,214.01 L441.52,213.94 L442.40,213.90 L443.29,213.91 L444.20,213.96 L445.11,214.03 L446.01,214.09 L446.87,214.12 L447.70,214.10 L448.47,214.00 L449.18,213.84 L449.87,213.66 L450.55,213.47 L451.25,213.30 L452.00,213.20 L452.78,213.15 L453.59,213.14 L454.41,213.16 L455.26,213.19 L456.12,213.24 L457.00,213.30 L457.91,213.37 L458.86,213.44 L459.83,213.54 L460.80,213.64 L461.77,213.77 L462.70,213.90 L463.60,214.06 L464.47,214.26 L465.33,214.47 L466.20,214.68 L467.08,214.86 L468.00,215.00 L468.97,215.11 L469.99,215.21 L471.02,215.29 L472.05,215.33 L473.05,215.30 L474.00,215.20 L474.88,215.01 L475.69,214.76 L476.47,214.45 L477.27,214.08 L478.10,213.66 L479.00,213.20 L480.01,212.64 L481.10,211.97 L482.23,211.26 L483.35,210.55 L484.42,209.91 L485.40,209.40 L486.27,209.04 L487.05,208.77 L487.79,208.58 L488.50,208.42 L489.23,208.27 L490.00,208.10 L490.81,207.91 L491.63,207.71 L492.46,207.53 L493.30,207.36 L494.14,207.22 L495.00,207.10 L495.87,207.01 L496.74,206.95 L497.63,206.91 L498.52,206.89 L499.41,206.88 L500.30,206.90 L501.18,206.94 L502.07,207.01 L502.95,207.10 L503.83,207.20 L504.72,207.30 L505.60,207.40 L506.48,207.49 L507.37,207.57 L508.25,207.66 L509.13,207.75 L510.02,207.86 L510.90,208.00 L511.80,208.16 L512.72,208.34 L513.64,208.54 L514.54,208.75 L515.40,208.97 L516.20,209.20 L516.92,209.45 L517.56,209.72 L518.17,210.00 L518.76,210.28 L519.36,210.55 L520.00,210.80 L520.68,211.03 L521.37,211.24 L522.08,211.45 L522.79,211.64 L523.50,211.83 L524.20,212.00 L524.90,212.16 L525.60,212.29 L526.30,212.42 L527.00,212.54 L527.70,212.67 L528.40,212.80 L529.10,212.95 L529.80,213.10 L530.50,213.25 L531.20,213.40 L531.90,213.55 L532.60,213.70 L533.30,213.84 L534.00,213.97 L534.69,214.10 L535.39,214.23 L536.09,214.36 L536.80,214.50 L537.51,214.65 L538.23,214.80 L538.95,214.96 L539.67,215.12 L540.39,215.27 L541.10,215.40 L541.81,215.52 L542.51,215.63 L543.21,215.73 L543.90,215.82 L544.60,215.91 L545.30,216.00 L546.00,216.09 L546.70,216.18 L547.40,216.27 L548.10,216.35 L548.80,216.43 L549.50,216.50 L550.20,216.56 L550.90,216.61 L551.60,216.66 L552.30,216.71 L553.00,216.75 L553.70,216.80 L554.40,216.84 L555.10,216.87 L555.80,216.89 L556.50,216.93 L557.20,217.00 L557.90,217.10 L558.60,217.24 L559.30,217.41 L560.00,217.61 L560.70,217.83 L561.40,218.06 L562.10,218.30 L562.82,218.56 L563.57,218.84 L564.33,219.14 L565.05,219.44 L565.72,219.73 L566.30,220.00 L566.78,220.25 L567.19,220.50 L567.54,220.73 L567.86,220.95 L568.17,221.14 L568.50,221.30 L568.87,221.42 L569.26,221.51 L569.64,221.58 L569.99,221.63 L570.28,221.67 L570.50,221.70" fill="none" stroke="#000" stroke-width="3.3" stroke-linejoin="round" stroke-linecap="round"/><path d="M233.81,220.30 L234.66,220.30 L235.51,220.30 L236.35,220.30 L237.20,220.30 L238.05,220.30 L238.90,220.30 L239.74,220.30 L240.59,220.30 L241.44,220.30 L242.28,220.30 L243.13,220.30 L243.98,220.30 L244.83,220.30 L245.67,220.30 L246.52,220.30 L247.37,220.30 L248.21,220.30 L249.06,220.30 L249.91,220.30 L250.76,220.30 L251.60,220.30 L252.45,220.30 L253.30,220.30 L254.15,220.30 L254.99,220.30 L255.84,220.30 L256.69,220.30 L257.53,220.30 L258.38,220.30 L259.23,220.30 L260.08,220.30 L260.92,220.30 L261.77,220.30 L262.62,220.30 L263.46,220.30 L264.31,220.30 L265.16,220.30 L266.01,220.30 L266.85,220.30 L267.70,220.30 L268.55,220.30 L269.39,220.30 L270.24,220.30 L271.09,220.30 L271.94,220.30 L272.78,220.30 L273.63,220.30 L274.48,220.30 L275.33,220.30 L276.17,220.30 L277.02,220.30 L277.87,220.30 L278.71,220.30 L279.56,220.30 L280.41,220.30 L281.26,220.30 L282.10,220.30 L282.95,220.30 L283.80,220.30 L284.64,220.30 L285.49,220.30 L286.34,220.30 L287.19,220.30 L288.03,220.30 L288.88,220.30 L289.73,220.30 L290.57,220.30 L291.42,220.30 L292.27,220.30 L293.12,220.30 L293.96,220.27 L294.81,220.13 L295.66,219.91 L296.50,219.62 L297.35,219.28 L298.20,218.88 L299.05,218.43 L299.89,217.93 L300.74,217.38 L301.59,216.80 L302.44,216.17 L303.28,215.50 L304.13,214.79 L304.98,214.05 L305.82,213.28 L306.67,212.47 L307.52,211.63 L308.37,210.77 L309.21,209.87 L310.06,208.95 L310.91,208.00 L311.75,207.03 L312.60,206.04 L313.45,205.03 L314.30,203.99 L315.14,202.94 L315.99,201.87 L316.84,200.78 L317.68,199.67 L318.53,198.55 L319.38,197.42 L320.23,196.27 L321.07,195.12 L321.92,193.95 L322.77,192.77 L323.62,191.59 L324.46,190.39 L325.31,189.19 L326.16,187.98 L327.00,186.77 L327.85,185.56 L328.70,184.34 L329.55,183.11 L330.39,181.89 L331.24,180.66 L332.09,179.44 L332.93,178.21 L333.78,176.99 L334.63,175.76 L335.48,174.54 L336.32,173.32 L337.17,172.11 L338.02,170.90 L338.86,169.69 L339.71,168.49 L340.56,167.30 L341.41,166.11 L342.25,164.92 L343.10,163.75 L343.95,162.58 L344.80,161.42 L345.64,160.27 L346.49,159.13 L347.34,158.00 L348.18,156.88 L349.03,155.77 L349.88,154.66 L350.73,153.57 L351.57,152.49 L352.42,151.42 L353.27,150.37 L354.11,149.32 L354.96,148.29 L355.81,147.26 L356.66,146.26 L357.50,145.26 L358.35,144.28 L359.20,143.30 L360.04,142.35 L360.89,141.40 L361.74,140.47 L362.59,139.55 L363.43,138.65 L364.28,137.76 L365.13,136.88 L365.98,136.01 L366.82,135.16 L367.67,134.33 L368.52,133.50 L369.36,132.69 L370.21,131.90 L371.06,131.12 L371.91,130.35 L372.75,129.59 L373.60,128.85 L374.45,128.13 L375.29,127.41 L376.14,126.71 L376.99,126.02 L377.84,125.35 L378.68,124.69 L379.53,124.04 L380.38,123.41 L381.22,122.79 L382.07,122.18 L382.92,121.58 L383.77,121.00 L384.61,120.43 L385.46,119.87 L386.31,119.32 L387.16,118.79 L388.00,118.26 L388.85,117.75 L389.70,117.25 L390.54,116.77 L391.39,116.29 L392.24,115.82 L393.09,115.37 L393.93,114.93 L394.78,114.49 L395.63,114.07 L396.47,113.66 L397.32,113.26 L398.17,112.87 L399.02,112.48 L399.86,112.11 L400.71,111.75 L401.56,111.40 L402.40,111.05 L403.25,110.72 L404.10,110.39 L404.95,110.07 L405.79,109.76 L406.64,109.46 L407.49,109.17 L408.33,108.89 L409.18,108.61 L410.03,108.34 L410.88,108.08 L411.72,107.83 L412.57,107.58 L413.42,107.34 L414.27,107.11 L415.11,106.88 L415.96,106.66 L416.81,106.45 L417.65,106.24 L418.50,106.04 L419.35,105.85 L420.20,105.66 L421.04,105.48 L421.89,105.30 L422.74,105.13 L423.58,104.96 L424.43,104.80 L425.28,104.65 L426.13,104.50 L426.97,104.35 L427.82,104.21 L428.67,104.07 L429.51,103.94 L430.36,103.81 L431.21,103.69 L432.06,103.57 L432.90,103.45 L433.75,103.34 L434.60,103.23 L435.45,103.13 L436.29,103.02 L437.14,102.93 L437.99,102.83 L438.83,102.74 L439.68,102.65 L440.53,102.57 L441.38,102.49 L442.22,102.41 L443.07,102.33 L443.92,102.26 L444.76,102.19 L445.61,102.12 L446.46,102.05 L447.31,101.99 L448.15,101.93 L449.00,101.87 L449.85,101.81 L450.69,101.76 L451.54,101.70 L452.39,101.65 L453.24,101.60 L454.08,101.56 L454.93,101.51 L455.78,101.47 L456.63,101.42 L457.47,101.38 L458.32,101.34 L459.17,101.31 L460.01,101.27 L460.86,101.24 L461.71,101.20 L462.56,101.17 L463.40,101.14 L464.25,101.11 L465.10,101.08 L465.94,101.06 L466.79,101.03 L467.64,101.01 L468.49,100.98 L469.33,100.96 L470.18,100.94 L471.03,100.92 L471.87,100.89 L472.72,100.88 L473.57,100.86 L474.42,100.84 L475.26,100.82 L476.11,100.81 L476.96,100.79 L477.81,100.77 L478.65,100.76 L479.50,100.75 L480.35,100.73 L481.19,100.72 L482.04,100.71 L482.89,100.70 L483.74,100.68 L484.58,100.67 L485.43,100.66 L486.28,100.65 L487.12,100.65 L487.97,100.64 L488.82,100.63 L489.67,100.62 L490.51,100.61 L491.36,100.60 L492.21,100.60 L493.05,100.59 L493.90,100.58 L494.75,100.58 L495.60,100.57 L496.44,100.57 L497.29,100.56 L498.14,100.56 L498.99,100.55 L499.83,100.55 L500.68,100.54 L501.53,100.54 L502.37,100.53 L503.22,100.53 L504.07,100.53 L504.92,100.52 L505.76,100.52 L506.61,100.52 L507.46,100.51 L508.30,100.51 L509.15,100.51 L510.00,100.50 L510.85,100.50 L511.69,100.50 L512.54,100.50 L513.39,100.49 L514.23,100.49 L515.08,100.49 L515.93,100.49 L516.78,100.49 L517.62,100.49 L518.47,100.48 L519.32,100.48 L520.16,100.48 L521.01,100.48 L521.86,100.48 L522.71,100.48 L523.55,100.48 L524.40,100.47 L525.25,100.47 L526.10,100.47 L526.94,100.47 L527.79,100.47 L528.64,100.47 L529.48,100.47 L530.33,100.47 L531.18,100.47 L532.03,100.47 L532.87,100.47 L533.72,100.47 L534.57,100.47 L535.41,100.46 L536.26,100.46 L537.11,100.46 L537.96,100.46 L538.80,100.46 L539.65,100.46 L540.50,100.46 L541.34,100.46 L542.19,100.46 L543.04,100.46 L543.89,100.46 L544.73,100.46 L545.58,100.46 L546.43,100.46 L547.28,100.46 L548.12,100.46 L548.97,100.46 L549.82,100.46 L550.66,100.46 L551.51,100.46 L552.36,100.46 L553.21,100.46 L554.05,100.46 L554.90,100.46 L555.75,100.46 L556.59,100.46 L557.44,100.46 L558.29,100.46 L559.14,100.46 L559.98,100.46 L560.83,100.46 L561.68,100.46 L562.52,100.46 L563.37,100.46 L564.22,100.46 L565.07,100.46 L565.91,100.46 L566.76,100.46 L567.61,100.46 L568.46,100.46 L569.30,100.46 L570.15,100.46 L571.00,100.46 L571.84,100.46" fill="none" stroke="#00e800" stroke-width="3.2" stroke-linejoin="round"/><path d="M233.81,220.30 L234.66,220.30 L235.51,220.30 L236.35,220.30 L237.20,220.30 L238.05,220.30 L238.90,220.30 L239.74,220.30 L240.59,220.30 L241.44,220.30 L242.28,220.30 L243.13,220.30 L243.98,220.30 L244.83,220.30 L245.67,220.30 L246.52,220.30 L247.37,220.30 L248.21,220.30 L249.06,220.30 L249.91,220.30 L250.76,220.30 L251.60,220.30 L252.45,220.30 L253.30,220.30 L254.15,220.30 L254.99,220.30 L255.84,220.30 L256.69,220.30 L257.53,220.30 L258.38,220.30 L259.23,220.30 L260.08,220.30 L260.92,220.30 L261.77,220.30 L262.62,220.30 L263.46,220.30 L264.31,220.30 L265.16,220.30 L266.01,220.30 L266.85,220.30 L267.70,220.30 L268.55,220.30 L269.39,220.30 L270.24,220.30 L271.09,220.30 L271.94,220.30 L272.78,220.30 L273.63,220.30 L274.48,220.30 L275.33,220.30 L276.17,220.30 L277.02,220.30 L277.87,220.30 L278.71,220.30 L279.56,220.30 L280.41,220.30 L281.26,220.30 L282.10,220.30 L282.95,220.30 L283.80,220.30 L284.64,220.28 L285.49,220.23 L286.34,220.18 L287.19,220.10 L288.03,220.01 L288.88,219.90 L289.73,219.77 L290.57,219.63 L291.42,219.46 L292.27,219.29 L293.12,219.09 L293.96,218.87 L294.81,218.64 L295.66,218.39 L296.50,218.13 L297.35,217.84 L298.20,217.54 L299.05,217.22 L299.89,216.88 L300.74,216.52 L301.59,216.15 L302.44,215.77 L303.28,215.37 L304.13,214.96 L304.98,214.53 L305.82,214.09 L306.67,213.63 L307.52,213.15 L308.37,212.66 L309.21,212.16 L310.06,211.63 L310.91,211.10 L311.75,210.54 L312.60,209.97 L313.45,209.38 L314.30,208.77 L315.14,208.14 L315.99,207.50 L316.84,206.84 L317.68,206.17 L318.53,205.48 L319.38,204.78 L320.23,204.06 L321.07,203.33 L321.92,202.59 L322.77,201.83 L323.62,201.06 L324.46,200.28 L325.31,199.48 L326.16,198.67 L327.00,197.84 L327.85,197.01 L328.70,196.16 L329.55,195.30 L330.39,194.42 L331.24,193.54 L332.09,192.64 L332.93,191.74 L333.78,190.83 L334.63,189.90 L335.48,188.97 L336.32,188.03 L337.17,187.07 L338.02,186.11 L338.86,185.13 L339.71,184.15 L340.56,183.16 L341.41,182.15 L342.25,181.14 L343.10,180.12 L343.95,179.08 L344.80,178.04 L345.64,176.98 L346.49,175.92 L347.34,174.84 L348.18,173.76 L349.03,172.67 L349.88,171.56 L350.73,170.45 L351.57,169.34 L352.42,168.21 L353.27,167.08 L354.11,165.95 L354.96,164.81 L355.81,163.67 L356.66,162.52 L357.50,161.38 L358.35,160.22 L359.20,159.06 L360.04,157.89 L360.89,156.71 L361.74,155.53 L362.59,154.35 L363.43,153.16 L364.28,151.98 L365.13,150.79 L365.98,149.60 L366.82,148.41 L367.67,147.22 L368.52,146.04 L369.36,144.85 L370.21,143.68 L371.06,142.50 L371.91,141.32 L372.75,140.14 L373.60,138.97 L374.45,137.79 L375.29,136.62 L376.14,135.45 L376.99,134.29 L377.84,133.12 L378.68,131.97 L379.53,130.81 L380.38,129.67 L381.22,128.52 L382.07,127.39 L382.92,126.26 L383.77,125.13 L384.61,124.01 L385.46,122.89 L386.31,121.77 L387.16,120.66 L388.00,119.55 L388.85,118.45 L389.70,117.36 L390.54,116.27 L391.39,115.18 L392.24,114.10 L393.09,113.03 L393.93,111.96 L394.78,110.90 L395.63,109.85 L396.47,108.81 L397.32,107.77 L398.17,106.74 L399.02,105.71 L399.86,104.70 L400.71,103.69 L401.56,102.69 L402.40,101.70 L403.25,100.71 L404.10,99.73 L404.95,98.75 L405.79,97.79 L406.64,96.82 L407.49,95.87 L408.33,94.92 L409.18,93.98 L410.03,93.05 L410.88,92.13 L411.72,91.21 L412.57,90.30 L413.42,89.39 L414.27,88.50 L415.11,87.61 L415.96,86.73 L416.81,85.86 L417.65,84.99 L418.50,84.14 L419.35,83.29 L420.20,82.44 L421.04,81.62 L421.89,80.82 L422.74,80.03 L423.58,79.27 L424.43,78.51 L425.28,77.77 L426.13,77.04 L426.97,76.32 L427.82,75.61 L428.67,74.90 L429.51,74.19 L430.36,73.49 L431.21,72.79 L432.06,72.10 L432.90,71.42 L433.75,70.75 L434.60,70.09 L435.45,69.44 L436.29,68.80 L437.14,68.16 L437.99,67.54 L438.83,66.92 L439.68,66.31 L440.53,65.70 L441.38,65.11 L442.22,64.52 L443.07,63.93 L443.92,63.36 L444.76,62.79 L445.61,62.22 L446.46,61.67 L447.31,61.11 L448.15,60.57 L449.00,60.02 L449.85,59.49 L450.69,58.95 L451.54,58.42 L452.39,57.90 L453.24,57.38 L454.08,56.86 L454.93,56.35 L455.78,55.84 L456.63,55.34 L457.47,54.84 L458.32,54.35 L459.17,53.87 L460.01,53.40 L460.86,52.93 L461.71,52.47 L462.56,52.01 L463.40,51.56 L464.25,51.12 L465.10,50.69 L465.94,50.26 L466.79,49.83 L467.64,49.42 L468.49,49.01 L469.33,48.60 L470.18,48.21 L471.03,47.82 L471.87,47.43 L472.72,47.05 L473.57,46.68 L474.42,46.31 L475.26,45.95 L476.11,45.60 L476.96,45.25 L477.81,44.91 L478.65,44.57 L479.50,44.24 L480.35,43.91 L481.19,43.59 L482.04,43.28 L482.89,42.97 L483.74,42.67 L484.58,42.37 L485.43,42.08 L486.28,41.79 L487.12,41.50 L487.97,41.23 L488.82,40.95 L489.67,40.68 L490.51,40.42 L491.36,40.16 L492.21,39.90 L493.05,39.65 L493.90,39.41 L494.75,39.16 L495.60,38.93 L496.44,38.69 L497.29,38.46 L498.14,38.24 L498.99,38.02 L499.83,37.80 L500.68,37.58 L501.53,37.37 L502.37,37.17 L503.22,36.97 L504.07,36.77 L504.92,36.57 L505.76,36.38 L506.61,36.19 L507.46,36.01 L508.30,35.82 L509.15,35.64 L510.00,35.47 L510.85,35.29 L511.69,35.12 L512.54,34.95 L513.39,34.79 L514.23,34.62 L515.08,34.46 L515.93,34.30 L516.78,34.15 L517.62,34.00 L518.47,33.85 L519.32,33.70 L520.16,33.55 L521.01,33.41 L521.86,33.27 L522.71,33.13 L523.55,32.99 L524.40,32.85 L525.25,32.72 L526.10,32.59 L526.94,32.46 L527.79,32.33 L528.64,32.21 L529.48,32.08 L530.33,31.96 L531.18,31.84 L532.03,31.72 L532.87,31.60 L533.72,31.47 L534.57,31.35 L535.41,31.23 L536.26,31.10 L537.11,30.98 L537.96,30.86 L538.80,30.74 L539.65,30.62 L540.50,30.50 L541.34,30.38 L542.19,30.27 L543.04,30.15 L543.89,30.04 L544.73,29.93 L545.58,29.82 L546.43,29.71 L547.28,29.61 L548.12,29.51 L548.97,29.41 L549.82,29.31 L550.66,29.22 L551.51,29.13 L552.36,29.04 L553.21,28.95 L554.05,28.87 L554.90,28.80 L555.75,28.72 L556.59,28.65 L557.44,28.57 L558.29,28.50 L559.14,28.43 L559.98,28.36 L560.83,28.29 L561.68,28.22 L562.52,28.15 L563.37,28.09 L564.22,28.03 L565.07,27.97 L565.91,27.91 L566.76,27.86 L567.61,27.81 L568.46,27.76 L569.30,27.72 L570.15,27.69 L571.00,27.65 L571.84,27.63" fill="none" stroke="#0a0af2" stroke-width="3.2" stroke-linejoin="round"/><rect x="0" y="0" width="233" height="283" fill="#fff"/><rect x="572" y="0" width="45" height="283" fill="#fff"/><rect x="233.5" y="20.5" width="338.0" height="209.0" fill="none" stroke="#8a8a8a" stroke-width="1"/><path d="M238.5,229.0v-3 M238.5,21.0v3 M290.5,229.0v-3 M290.5,21.0v3 M342.5,229.0v-3 M342.5,21.0v3 M394.5,229.0v-3 M394.5,21.0v3 M446.5,229.0v-3 M446.5,21.0v3 M498.5,229.0v-3 M498.5,21.0v3 M551.5,229.0v-3 M551.5,21.0v3 M234.0,220.5h3 M571.0,220.5h-3 M234.0,183.5h3 M571.0,183.5h-3 M234.0,145.5h3 M571.0,145.5h-3 M234.0,108.5h3 M571.0,108.5h-3 M234.0,71.5h3 M571.0,71.5h-3 M234.0,33.5h3 M571.0,33.5h-3" stroke="#8a8a8a" stroke-width="1" fill="none"/><text x="238.5" y="246.7" font-size="12.3" text-anchor="middle">-5</text><text x="290.6" y="246.7" font-size="12.3" text-anchor="middle">0</text><text x="342.7" y="246.7" font-size="12.3" text-anchor="middle">5</text><text x="394.8" y="246.7" font-size="12.3" text-anchor="middle">10</text><text x="446.8" y="246.7" font-size="12.3" text-anchor="middle">15</text><text x="498.9" y="246.7" font-size="12.3" text-anchor="middle">20</text><text x="551.0" y="246.7" font-size="12.3" text-anchor="middle">25</text><text x="231.6" y="224.6" font-size="12.3" text-anchor="end" letter-spacing="0.5">0</text><text x="231.6" y="189.1" font-size="12.3" text-anchor="end" letter-spacing="0.5">0.5</text><text x="231.6" y="150.4" font-size="12.3" text-anchor="end" letter-spacing="0.5">1</text><text x="231.6" y="112.3" font-size="12.3" text-anchor="end" letter-spacing="0.5">1.5</text><text x="231.6" y="75.3" font-size="12.3" text-anchor="end" letter-spacing="0.5">2</text><text x="231.6" y="39.3" font-size="12.3" text-anchor="end" letter-spacing="0.5">2.5</text><text x="571.4" y="223.9" font-size="12.3" letter-spacing="0.5">0</text><text x="573.5" y="187.6" font-size="12.3" letter-spacing="0.5">0.65</text><text x="572.6" y="150.5" font-size="12.3" letter-spacing="0.5">1.30</text><text x="572.6" y="114.6" font-size="12.3" letter-spacing="0.5">1.95</text><text x="573.5" y="77.6" font-size="12.3" letter-spacing="0.5">2.60</text><text x="573.4" y="39.1" font-size="12.3" letter-spacing="0.5">3.25</text><text transform="translate(355,260) scale(1.08,1)" font-size="12.4" textLength="62.9" lengthAdjust="spacing">Time [min]</text><text x="396" y="277.8" font-size="12.5" text-anchor="middle">(b)</text><text transform="translate(209.6,185.8) rotate(-90)" font-size="13.22">Resonance shift [px]</text><text transform="translate(606.6,64.8) rotate(90)" font-size="13.22">Resonance shift [µm]</text><text x="537" y="195.5" font-size="12">3σ</text><line x1="242.3" y1="39.5" x2="262" y2="39.5" stroke="#0a0af2" stroke-width="2.8"/><text class="h" x="265.5" y="44.5" font-size="12.9">1nM CD9</text><line x1="242.3" y1="55.5" x2="262" y2="55.5" stroke="#00e800" stroke-width="2.8"/><text class="h" x="265.5" y="60.5" font-size="12.9">100pM CD9</text><line x1="242.3" y1="71.5" x2="262" y2="71.5" stroke="#000" stroke-width="2.8"/><text class="h" x="265.5" y="76.5" font-size="12.9">Control 1</text><line x1="242.3" y1="87.5" x2="262" y2="87.5" stroke="#fa0a0a" stroke-width="2.8"/><text class="h" x="265.5" y="92.5" font-size="12.9">Control 2</text><rect x="12.3" y="232.5" width="174.7" height="26" fill="#e0d854"/><text class="h" x="17.5" y="252.4" font-size="16.3" textLength="101.5" lengthAdjust="spacingAndGlyphs">Optical sensor</text><text x="92.7" y="279.3" font-size="12.5" text-anchor="middle">(a)</text><g fill="#fff" stroke="#636363" stroke-width="0.75"><ellipse cx="99.17" cy="34.56" rx="5.35" ry="0.75" transform="rotate(-93.72 99.17 34.56)"/><circle cx="98.82" cy="29.22" r="1.95"/><circle cx="99.52" cy="39.89" r="1.3"/><ellipse cx="103.67" cy="34.47" rx="5.35" ry="0.75" transform="rotate(-88.54 103.67 34.47)"/><circle cx="103.81" cy="29.12" r="1.95"/><circle cx="103.53" cy="39.81" r="1.3"/><ellipse cx="108.16" cy="34.79" rx="5.34" ry="0.75" transform="rotate(-83.35 108.16 34.79)"/><circle cx="108.78" cy="29.49" r="1.95"/><circle cx="107.54" cy="40.10" r="1.3"/><ellipse cx="112.59" cy="35.53" rx="5.33" ry="0.75" transform="rotate(-78.14 112.59 35.53)"/><circle cx="113.68" cy="30.32" r="1.95"/><circle cx="111.49" cy="40.74" r="1.3"/><ellipse cx="116.92" cy="36.67" rx="5.30" ry="0.75" transform="rotate(-72.89 116.92 36.67)"/><circle cx="118.48" cy="31.61" r="1.95"/><circle cx="115.36" cy="41.74" r="1.3"/><ellipse cx="121.10" cy="38.21" rx="5.27" ry="0.75" transform="rotate(-67.58 121.10 38.21)"/><circle cx="123.11" cy="33.34" r="1.95"/><circle cx="119.09" cy="43.08" r="1.3"/><ellipse cx="125.10" cy="40.12" rx="5.23" ry="0.75" transform="rotate(-62.20 125.10 40.12)"/><circle cx="127.54" cy="35.50" r="1.95"/><circle cx="122.66" cy="44.75" r="1.3"/><ellipse cx="128.87" cy="42.40" rx="5.18" ry="0.75" transform="rotate(-56.73 128.87 42.40)"/><circle cx="131.72" cy="38.06" r="1.95"/><circle cx="126.03" cy="46.73" r="1.3"/><ellipse cx="132.38" cy="45.01" rx="5.14" ry="0.75" transform="rotate(-51.16 132.38 45.01)"/><circle cx="135.60" cy="41.01" r="1.95"/><circle cx="129.16" cy="49.01" r="1.3"/><ellipse cx="135.60" cy="47.93" rx="5.09" ry="0.75" transform="rotate(-45.48 135.60 47.93)"/><circle cx="139.16" cy="44.31" r="1.95"/><circle cx="132.03" cy="51.56" r="1.3"/><ellipse cx="138.48" cy="51.14" rx="5.04" ry="0.75" transform="rotate(-39.69 138.48 51.14)"/><circle cx="142.35" cy="47.92" r="1.95"/><circle cx="134.60" cy="54.35" r="1.3"/><ellipse cx="141.00" cy="54.59" rx="4.99" ry="0.75" transform="rotate(-33.79 141.00 54.59)"/><circle cx="145.15" cy="51.82" r="1.95"/><circle cx="136.85" cy="57.37" r="1.3"/><ellipse cx="143.14" cy="58.26" rx="4.95" ry="0.75" transform="rotate(-27.78 143.14 58.26)"/><circle cx="147.52" cy="55.96" r="1.95"/><circle cx="138.76" cy="60.57" r="1.3"/><ellipse cx="144.88" cy="62.11" rx="4.91" ry="0.75" transform="rotate(-21.68 144.88 62.11)"/><circle cx="149.44" cy="60.30" r="1.95"/><circle cx="140.31" cy="63.93" r="1.3"/><ellipse cx="146.19" cy="66.10" rx="4.88" ry="0.75" transform="rotate(-15.49 146.19 66.10)"/><circle cx="150.89" cy="64.80" r="1.95"/><circle cx="141.49" cy="67.41" r="1.3"/><ellipse cx="147.07" cy="70.20" rx="4.86" ry="0.75" transform="rotate(-9.24 147.07 70.20)"/><circle cx="151.87" cy="69.41" r="1.95"/><circle cx="142.27" cy="70.98" r="1.3"/><ellipse cx="147.50" cy="74.35" rx="4.85" ry="0.75" transform="rotate(-2.95 147.50 74.35)"/><circle cx="152.35" cy="74.10" r="1.95"/><circle cx="142.66" cy="74.60" r="1.3"/><ellipse cx="147.49" cy="78.52" rx="4.85" ry="0.75" transform="rotate(3.35 147.49 78.52)"/><circle cx="152.33" cy="78.80" r="1.95"/><circle cx="142.64" cy="78.24" r="1.3"/><ellipse cx="147.02" cy="82.67" rx="4.86" ry="0.75" transform="rotate(9.64 147.02 82.67)"/><circle cx="151.82" cy="83.48" r="1.95"/><circle cx="142.23" cy="81.86" r="1.3"/><ellipse cx="146.12" cy="86.76" rx="4.88" ry="0.75" transform="rotate(15.89 146.12 86.76)"/><circle cx="150.81" cy="88.09" r="1.95"/><circle cx="141.42" cy="85.42" r="1.3"/><ellipse cx="144.78" cy="90.74" rx="4.91" ry="0.75" transform="rotate(22.07 144.78 90.74)"/><circle cx="149.33" cy="92.59" r="1.95"/><circle cx="140.23" cy="88.89" r="1.3"/><ellipse cx="143.02" cy="94.58" rx="4.95" ry="0.75" transform="rotate(28.17 143.02 94.58)"/><circle cx="147.38" cy="96.92" r="1.95"/><circle cx="138.65" cy="92.24" r="1.3"/><ellipse cx="140.85" cy="98.24" rx="4.99" ry="0.75" transform="rotate(34.17 140.85 98.24)"/><circle cx="144.98" cy="101.04" r="1.95"/><circle cx="136.72" cy="95.43" r="1.3"/><ellipse cx="138.30" cy="101.68" rx="5.04" ry="0.75" transform="rotate(40.07 138.30 101.68)"/><circle cx="142.16" cy="104.92" r="1.95"/><circle cx="134.45" cy="98.43" r="1.3"/><ellipse cx="135.40" cy="104.86" rx="5.09" ry="0.75" transform="rotate(45.85 135.40 104.86)"/><circle cx="138.94" cy="108.51" r="1.95"/><circle cx="131.85" cy="101.21" r="1.3"/><ellipse cx="132.17" cy="107.77" rx="5.14" ry="0.75" transform="rotate(51.52 132.17 107.77)"/><circle cx="135.36" cy="111.79" r="1.95"/><circle cx="128.97" cy="103.74" r="1.3"/><ellipse cx="128.64" cy="110.36" rx="5.19" ry="0.75" transform="rotate(57.08 128.64 110.36)"/><circle cx="131.46" cy="114.71" r="1.95"/><circle cx="125.82" cy="106.00" r="1.3"/><ellipse cx="124.85" cy="112.61" rx="5.23" ry="0.75" transform="rotate(62.55 124.85 112.61)"/><circle cx="127.26" cy="117.25" r="1.95"/><circle cx="122.44" cy="107.97" r="1.3"/><ellipse cx="120.84" cy="114.50" rx="5.27" ry="0.75" transform="rotate(67.92 120.84 114.50)"/><circle cx="122.82" cy="119.38" r="1.95"/><circle cx="118.86" cy="109.62" r="1.3"/><ellipse cx="116.64" cy="116.01" rx="5.30" ry="0.75" transform="rotate(73.23 116.64 116.01)"/><circle cx="118.17" cy="121.09" r="1.95"/><circle cx="115.11" cy="110.94" r="1.3"/><ellipse cx="112.31" cy="117.13" rx="5.33" ry="0.75" transform="rotate(78.48 112.31 117.13)"/><circle cx="113.37" cy="122.35" r="1.95"/><circle cx="111.24" cy="111.91" r="1.3"/><ellipse cx="107.87" cy="117.84" rx="5.34" ry="0.75" transform="rotate(83.69 107.87 117.84)"/><circle cx="108.46" cy="123.15" r="1.95"/><circle cx="107.28" cy="112.53" r="1.3"/><ellipse cx="103.38" cy="118.14" rx="5.35" ry="0.75" transform="rotate(88.87 103.38 118.14)"/><circle cx="103.49" cy="123.49" r="1.95"/><circle cx="103.28" cy="112.79" r="1.3"/><ellipse cx="98.88" cy="118.02" rx="5.35" ry="0.75" transform="rotate(94.05 98.88 118.02)"/><circle cx="98.50" cy="123.36" r="1.95"/><circle cx="99.26" cy="112.69" r="1.3"/><ellipse cx="94.42" cy="117.49" rx="5.34" ry="0.75" transform="rotate(99.25 94.42 117.49)"/><circle cx="93.56" cy="122.76" r="1.95"/><circle cx="95.28" cy="112.23" r="1.3"/><ellipse cx="90.03" cy="116.55" rx="5.31" ry="0.75" transform="rotate(104.48 90.03 116.55)"/><circle cx="88.70" cy="121.69" r="1.95"/><circle cx="91.36" cy="111.40" r="1.3"/><ellipse cx="85.77" cy="115.21" rx="5.28" ry="0.75" transform="rotate(109.76 85.77 115.21)"/><circle cx="83.98" cy="120.18" r="1.95"/><circle cx="87.56" cy="110.23" r="1.3"/><ellipse cx="81.67" cy="113.48" rx="5.25" ry="0.75" transform="rotate(115.10 81.67 113.48)"/><circle cx="79.45" cy="118.23" r="1.95"/><circle cx="83.90" cy="108.73" r="1.3"/><ellipse cx="77.78" cy="111.38" rx="5.21" ry="0.75" transform="rotate(120.52 77.78 111.38)"/><circle cx="75.14" cy="115.87" r="1.95"/><circle cx="80.43" cy="106.90" r="1.3"/><ellipse cx="74.14" cy="108.94" rx="5.16" ry="0.75" transform="rotate(126.04 74.14 108.94)"/><circle cx="71.10" cy="113.11" r="1.95"/><circle cx="77.17" cy="104.76" r="1.3"/><ellipse cx="70.77" cy="106.17" rx="5.11" ry="0.75" transform="rotate(131.67 70.77 106.17)"/><circle cx="67.37" cy="109.98" r="1.95"/><circle cx="74.17" cy="102.35" r="1.3"/><ellipse cx="67.72" cy="103.10" rx="5.06" ry="0.75" transform="rotate(137.40 67.72 103.10)"/><circle cx="64.00" cy="106.52" r="1.95"/><circle cx="71.45" cy="99.67" r="1.3"/><ellipse cx="65.01" cy="99.76" rx="5.01" ry="0.75" transform="rotate(143.24 65.01 99.76)"/><circle cx="61.00" cy="102.76" r="1.95"/><circle cx="69.03" cy="96.76" r="1.3"/><ellipse cx="62.68" cy="96.20" rx="4.97" ry="0.75" transform="rotate(149.20 62.68 96.20)"/><circle cx="58.41" cy="98.74" r="1.95"/><circle cx="66.95" cy="93.65" r="1.3"/><ellipse cx="60.74" cy="92.43" rx="4.93" ry="0.75" transform="rotate(155.26 60.74 92.43)"/><circle cx="56.26" cy="94.49" r="1.95"/><circle cx="65.21" cy="90.37" r="1.3"/><ellipse cx="59.21" cy="88.51" rx="4.89" ry="0.75" transform="rotate(161.41 59.21 88.51)"/><circle cx="54.57" cy="90.07" r="1.95"/><circle cx="63.85" cy="86.95" r="1.3"/><ellipse cx="58.12" cy="84.46" rx="4.87" ry="0.75" transform="rotate(167.63 58.12 84.46)"/><circle cx="53.36" cy="85.50" r="1.95"/><circle cx="62.87" cy="83.42" r="1.3"/><ellipse cx="57.46" cy="80.33" rx="4.85" ry="0.75" transform="rotate(173.90 57.46 80.33)"/><circle cx="52.63" cy="80.85" r="1.95"/><circle cx="62.29" cy="79.82" r="1.3"/><ellipse cx="57.25" cy="76.17" rx="4.85" ry="0.75" transform="rotate(-179.80 57.25 76.17)"/><circle cx="52.40" cy="76.15" r="1.95"/><circle cx="62.10" cy="76.18" r="1.3"/><ellipse cx="57.49" cy="72.00" rx="4.86" ry="0.75" transform="rotate(-173.50 57.49 72.00)"/><circle cx="52.66" cy="71.45" r="1.95"/><circle cx="62.31" cy="72.55" r="1.3"/><ellipse cx="58.17" cy="67.88" rx="4.87" ry="0.75" transform="rotate(-167.23 58.17 67.88)"/><circle cx="53.42" cy="66.80" r="1.95"/><circle cx="62.92" cy="68.95" r="1.3"/><ellipse cx="59.30" cy="63.84" rx="4.90" ry="0.75" transform="rotate(-161.01 59.30 63.84)"/><circle cx="54.67" cy="62.24" r="1.95"/><circle cx="63.93" cy="65.43" r="1.3"/><ellipse cx="60.85" cy="59.92" rx="4.93" ry="0.75" transform="rotate(-154.87 60.85 59.92)"/><circle cx="56.39" cy="57.83" r="1.95"/><circle cx="65.31" cy="62.01" r="1.3"/><ellipse cx="62.82" cy="56.17" rx="4.97" ry="0.75" transform="rotate(-148.81 62.82 56.17)"/><circle cx="58.57" cy="53.59" r="1.95"/><circle cx="67.07" cy="58.74" r="1.3"/><ellipse cx="65.18" cy="52.61" rx="5.02" ry="0.75" transform="rotate(-142.86 65.18 52.61)"/><circle cx="61.18" cy="49.59" r="1.95"/><circle cx="69.18" cy="55.64" r="1.3"/><ellipse cx="67.91" cy="49.30" rx="5.06" ry="0.75" transform="rotate(-137.03 67.91 49.30)"/><circle cx="64.20" cy="45.84" r="1.95"/><circle cx="71.61" cy="52.75" r="1.3"/><ellipse cx="70.98" cy="46.25" rx="5.11" ry="0.75" transform="rotate(-131.30 70.98 46.25)"/><circle cx="67.60" cy="42.41" r="1.95"/><circle cx="74.35" cy="50.09" r="1.3"/><ellipse cx="74.36" cy="43.50" rx="5.16" ry="0.75" transform="rotate(-125.69 74.36 43.50)"/><circle cx="71.35" cy="39.30" r="1.95"/><circle cx="77.37" cy="47.69" r="1.3"/><ellipse cx="78.03" cy="41.07" rx="5.21" ry="0.75" transform="rotate(-120.17 78.03 41.07)"/><circle cx="75.41" cy="36.57" r="1.95"/><circle cx="80.64" cy="45.58" r="1.3"/><ellipse cx="81.93" cy="39.00" rx="5.25" ry="0.75" transform="rotate(-114.75 81.93 39.00)"/><circle cx="79.73" cy="34.23" r="1.95"/><circle cx="84.13" cy="43.77" r="1.3"/><ellipse cx="86.04" cy="37.29" rx="5.29" ry="0.75" transform="rotate(-109.41 86.04 37.29)"/><circle cx="84.28" cy="32.31" r="1.95"/><circle cx="87.80" cy="42.28" r="1.3"/><ellipse cx="90.31" cy="35.98" rx="5.32" ry="0.75" transform="rotate(-104.14 90.31 35.98)"/><circle cx="89.01" cy="30.82" r="1.95"/><circle cx="91.61" cy="41.13" r="1.3"/><ellipse cx="94.70" cy="35.06" rx="5.34" ry="0.75" transform="rotate(-98.91 94.70 35.06)"/><circle cx="93.88" cy="29.79" r="1.95"/><circle cx="95.53" cy="40.33" r="1.3"/></g><g fill="none" stroke="#555" stroke-width="0.8"><path d="M93.5,105.6 C93,103 92.5,101.5 93.5,100"/><path d="M98.3,106.4 C98.5,100 105,100 105.4,106.4"/><path d="M110.2,105.6 C110.5,103.5 111,102.5 112,101"/><path d="M110.2,131 C110.5,138 116.5,138 116.9,130.2"/><path d="M94,131.5 C93,135 90,134 89,132"/><path d="M87.2,130.2 C87.6,132.6 86.6,134.8 84.6,136 C82.6,137.4 83.4,139.6 85.4,139.6 C87,139.7 86.6,141.5 85.3,142.6 C84.4,144 86.6,145.6 88.5,144.1 C90,142.8 89,140.6 89.5,139 C90,137.6 88.3,136.2 89.5,134.2"/><path d="M43.5,58.6 C35,57 34,66 42,65.3"/><path d="M74.5,55.4 C79,56 78,60 71.4,59.9"/><path d="M67.4,64.7 C71,64 72,62 71.4,59.9"/><path d="M66.6,70.5 C70,70 72,69 73,67"/><path d="M51.2,45.1 L41.9,37.8 C40.6,36.6 40.8,33.6 42.4,32.1 C43.6,31 45.2,31.9 44.7,33.4 C44.3,34.8 43,35.4 44.2,36 C45.5,36.5 45,34 45.8,32.9 C46.7,31.6 48.6,31.7 48.9,33.1 C49.1,34.4 47.8,35.2 48.6,35.8 C49.5,36.3 50,34 51,35.2 C51.8,36.2 50.5,37.4 52.5,37.5 C53.5,37.6 54.3,37.8 55.5,39.9"/><path d="M153.3,44.7 C160,41 162,48 156.2,50.2"/><path d="M134.7,61.8 C128,63 129,70 136.2,68.5"/><path d="M131.7,57.3 C130,58 129,58.5 128,58.8"/><path d="M136.9,73.7 C135,74.5 134,75 132.5,75.5"/><path d="M161.4,65.5 C165,64.2 168.5,63.4 171.5,63.4 C173.3,63.6 173.6,65.2 171.6,66.3 C173.8,65.8 176.4,66.8 176.4,68.8 C176.3,70.4 173.4,70.2 171.2,69.6 C168.5,69 166.2,69.3 165.3,70 M161.4,72.5 C164,72.3 166,70.9 168.4,71.9 C169.8,72.6 170.6,74.4 171.2,74.2 C171.8,73.8 170.8,72.3 173.6,71.3"/></g><g stroke="#f81010" stroke-width="3.6" stroke-linecap="round"><line x1="93.5" y1="105.6" x2="87.2" y2="130.2"/><line x1="98.3" y1="106.4" x2="94" y2="131.5"/><line x1="105.4" y1="106.4" x2="110.2" y2="131"/><line x1="110.2" y1="105.6" x2="116.9" y2="130.2"/><line x1="55.5" y1="39.9" x2="74.5" y2="55.4"/><line x1="51.2" y1="45.1" x2="71.4" y2="59.9"/><line x1="43.5" y1="58.6" x2="67.4" y2="64.7"/><line x1="42" y1="65.3" x2="66.6" y2="70.5"/><line x1="131.7" y1="57.3" x2="153.3" y2="44.7"/><line x1="134.7" y1="61.8" x2="156.2" y2="50.2"/><line x1="136.2" y1="68.5" x2="161.4" y2="65.5"/><line x1="136.9" y1="73.7" x2="161.4" y2="72.5"/></g><g stroke="#3592d6" stroke-width="3.2" stroke-linecap="round" stroke-linejoin="round" fill="none"><path d="M91,138 L105.6,157.4"/><path d="M95.6,135 L110.9,155.3 L110.9,184"/><path d="M131.8,135 L116.6,155.3 L116.6,184"/><path d="M136.5,138 L121.8,157.4"/></g><ellipse cx="113.2" cy="185.5" rx="5" ry="2.4" transform="rotate(-15 113.2 185.5)" fill="#1f9a2a"/><path d="M108.30,188.40 L108.03,188.57 L107.67,188.81 L107.23,189.10 L106.76,189.40 L106.27,189.67 L105.80,189.90 L105.34,190.09 L104.87,190.26 L104.38,190.41 L103.89,190.54 L103.39,190.64 L102.90,190.70 L102.39,190.71 L101.87,190.67 L101.34,190.59 L100.83,190.51 L100.34,190.44 L99.90,190.40 L99.49,190.38 L99.11,190.36 L98.76,190.34 L98.44,190.36 L98.15,190.40 L97.90,190.50 L97.67,190.65 L97.47,190.85 L97.29,191.08 L97.17,191.34 L97.10,191.62 L97.10,191.90 L97.18,192.20 L97.33,192.54 L97.54,192.89 L97.80,193.25 L98.09,193.59 L98.40,193.90 L98.74,194.18 L99.13,194.46 L99.54,194.71 L99.99,194.96 L100.44,195.18 L100.90,195.40 L101.39,195.59 L101.92,195.76 L102.47,195.91 L103.00,196.06 L103.49,196.22 L103.90,196.40 L104.25,196.60 L104.55,196.81 L104.81,197.04 L105.03,197.27 L105.19,197.53 L105.30,197.80 L105.36,198.12 L105.38,198.48 L105.34,198.86 L105.26,199.22 L105.11,199.55 L104.90,199.80 L104.61,199.98 L104.24,200.11 L103.81,200.21 L103.35,200.26 L102.87,200.29 L102.40,200.30 L101.92,200.29 L101.40,200.24 L100.87,200.18 L100.34,200.08 L99.85,199.95 L99.40,199.80 L98.99,199.61 L98.60,199.37 L98.23,199.11 L97.90,198.83 L97.62,198.56 L97.40,198.30 L97.23,198.06 L97.10,197.81 L97.01,197.57 L96.98,197.33 L97.01,197.11 L97.10,196.90 L97.27,196.69 L97.51,196.47 L97.81,196.27 L98.16,196.09 L98.52,195.96 L98.90,195.90 L99.32,195.91 L99.80,195.97 L100.30,196.09 L100.79,196.24 L101.24,196.41 L101.60,196.60 L101.89,196.81 L102.14,197.04 L102.34,197.29 L102.49,197.57 L102.58,197.88 L102.60,198.20 L102.54,198.56 L102.39,198.97 L102.19,199.39 L101.94,199.82 L101.67,200.23 L101.40,200.60 L101.07,200.93 L100.64,201.24 L100.20,201.54 L99.80,201.81 L99.51,202.07 L99.40,202.30 L99.53,202.50 L99.86,202.67 L100.31,202.83 L100.77,202.97 L101.17,203.12 L101.40,203.30 L101.48,203.52 L101.49,203.77 L101.43,204.03 L101.31,204.27 L101.13,204.47 L100.90,204.60 L100.59,204.65 L100.20,204.63 L99.74,204.57 L99.27,204.49 L98.81,204.39 L98.40,204.30 L98.03,204.17 L97.66,203.99 L97.31,203.79 L96.97,203.63 L96.67,203.55 L96.40,203.60 L96.16,203.80 L95.94,204.13 L95.74,204.54 L95.59,204.98 L95.47,205.42 L95.40,205.80 L95.38,206.14 L95.41,206.48 L95.48,206.81 L95.59,207.12 L95.73,207.42 L95.90,207.70 L96.13,207.97 L96.44,208.23 L96.78,208.47 L97.11,208.69 L97.40,208.87 L97.60,209.00" fill="none" stroke="#1a7d22" stroke-width="1.1" stroke-linejoin="round"/><line x1="97.6" y1="213" x2="97.6" y2="233" stroke="#a5121c" stroke-width="2.1"/><circle cx="97.8" cy="212.6" r="4.9" fill="#a3000f"/><text x="45.2" y="30.3" font-size="11.5" class="h">CD9</text><text x="144.3" y="38.2" font-size="11.5" class="h">CD9</text><text x="92.2" y="99.5" font-size="11.5" class="h">CD9</text><text x="130.3" y="161.8" font-size="11.6" class="h">α-CD9</text><text x="42.2" y="196.9" font-size="11.5" letter-spacing="0.05" class="h">SM(PEG)<tspan font-size="7.8" dy="3.2">6</tspan></text><text x="101.8" y="226.4" font-size="11.5" class="h">MPTS silanisation</text></svg>
</body></html>
